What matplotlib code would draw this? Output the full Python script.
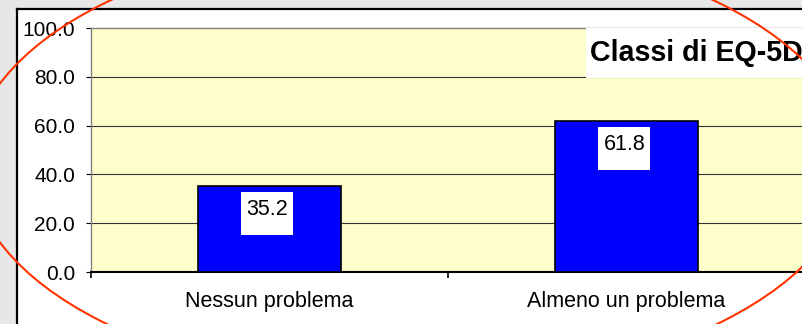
import matplotlib
matplotlib.use("Agg")
import matplotlib.pyplot as plt
from matplotlib.patches import Rectangle, Ellipse

plt.rcParams['font.family'] = ['Liberation Sans', 'DejaVu Sans']

# Data
categories = ["Nessun problema", "Almeno un problema"]
values = [35.2, 61.8]
y_ticks = [0, 20, 40, 60, 80, 100]
title = "Classi di EQ-5D"

W, H = 802, 324
fig = plt.figure(figsize=(W / 100, H / 100), dpi=100)
fig.patch.set_facecolor("#e7e7e7")


def fx(px):
    return px / W


def fy(py):
    return 1 - py / H


# white slide panel with black frame (left and top edges)
fig.add_artist(Rectangle((fx(17), 0), 1.0, fy(9), transform=fig.transFigure,
                         facecolor="white", edgecolor="none", zorder=-2))
fig.add_artist(plt.Line2D([fx(17), fx(17)], [0, fy(9)], transform=fig.transFigure,
                          color="black", lw=1.6, zorder=-1))
fig.add_artist(plt.Line2D([fx(17), 1.0], [fy(9), fy(9)], transform=fig.transFigure,
                          color="black", lw=1.6, zorder=-1))

# plot area
x_left, x_right = 91, 805
y_top, y_bot = 28, 272
ax = fig.add_axes([fx(x_left), fy(y_bot), (x_right - x_left) / W, (y_bot - y_top) / H])
ax.set_facecolor("#ffffcc")
ax.set_xlim(-0.5, 1.5)
ax.set_ylim(0, 100)

xs = list(range(len(categories)))
ax.bar(xs, values, width=0.403, color="#0000ff", edgecolor="black", linewidth=1.2, zorder=3)

for y in y_ticks[1:-1]:
    ax.axhline(y, color="#333333", lw=0.8, zorder=1)

ax.set_yticks(y_ticks)
ax.set_yticklabels([f"{v:.1f}" for v in y_ticks])
ax.tick_params(axis="y", direction="out", length=3.6, width=0.8, pad=8,
               labelsize=15, colors="black")

ax.set_xticks([-0.5, 0.5, 1.5])
ax.set_xticklabels([])
ax.tick_params(axis="x", which="major", direction="out", length=4.5, width=1.2)
ax.set_xticks(xs, minor=True)
ax.set_xticklabels(categories, minor=True)
ax.tick_params(axis="x", which="minor", length=0, pad=14, labelsize=15.5)

for side in ("top", "left"):
    ax.spines[side].set_color("#808080")
    ax.spines[side].set_linewidth(1.0)
ax.spines["right"].set_visible(False)
ax.spines["bottom"].set_color("black")
ax.spines["bottom"].set_linewidth(1.5)

# value labels in white boxes just inside the top of each bar
box_w, box_h, box_gap = 0.146, 17.6, 2.5
for x, v in zip(xs, values):
    top = v - box_gap
    ax.add_patch(Rectangle((x - 0.006 - box_w / 2, top - box_h), box_w, box_h,
                           facecolor="white", edgecolor="none", zorder=4))
    ax.text(x - 0.006, top - 7.0, f"{v:.1f}", ha="center", va="center",
            fontsize=15.5, color="black", zorder=5)

# title box at top right
fig.add_artist(Rectangle((fx(586), fy(78)), 1.0, (78 - 28) / H, transform=fig.transFigure,
                         facecolor="white", edgecolor="none", zorder=2))
fig.text(fx(590), fy(53), title, ha="left", va="center", fontsize=20.6,
         fontweight="bold", color="black", zorder=3)

# red ellipse highlight
fig.add_artist(Ellipse((fx(412), fy(163)), 882 / W, 446 / H, transform=fig.transFigure,
                       facecolor="none", edgecolor="#ff3300", lw=1.5, zorder=6))

fig.savefig("out.png", dpi=100)
